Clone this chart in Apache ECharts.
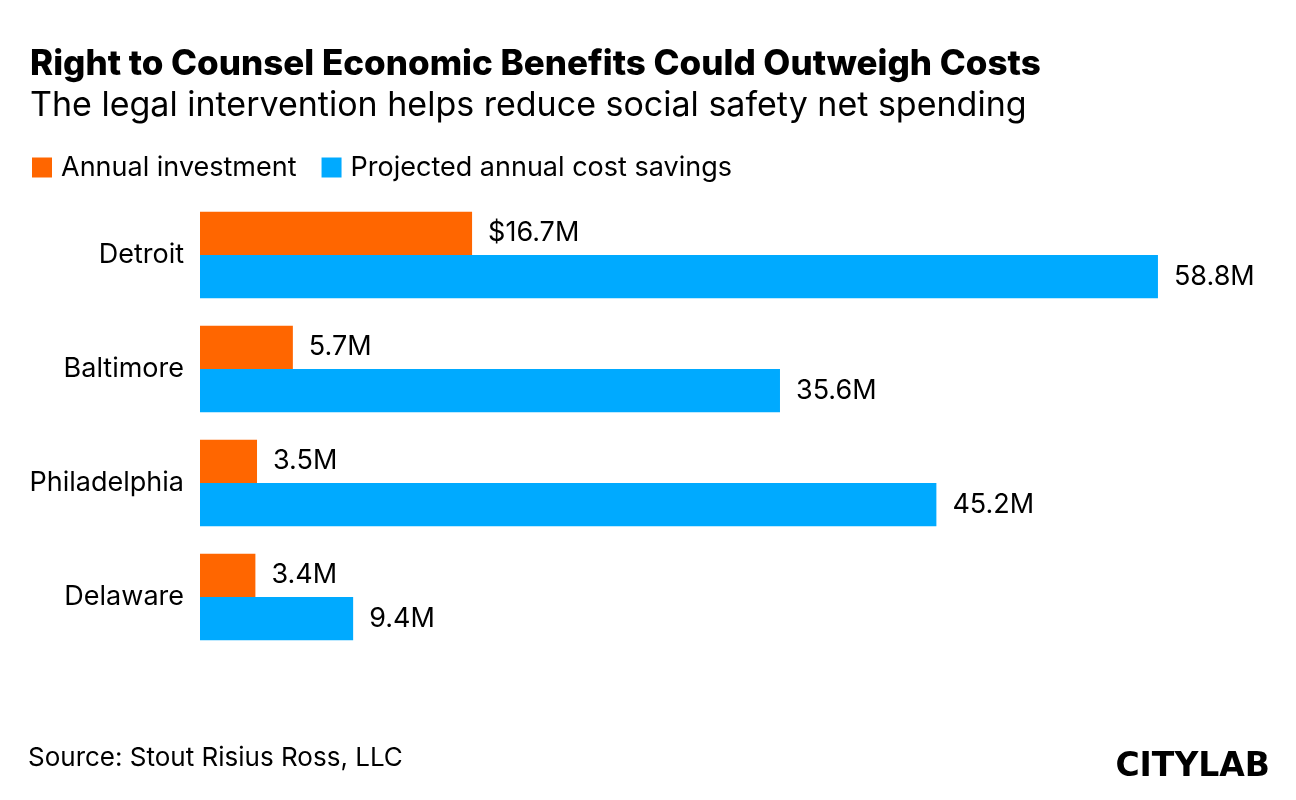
<!DOCTYPE html>
<html><head><meta charset="utf-8">
<script src="https://cdn.jsdelivr.net/npm/echarts@6/dist/echarts.min.js"></script>
<style>html,body{margin:0;padding:0;background:#fff}#c{width:1296px;height:800px}</style>
</head><body><div id="c"></div>
<script>
const categories = ['Detroit', 'Baltimore', 'Philadelphia', 'Delaware'];
const investment = [16.7, 5.7, 3.5, 3.4];
const savings = [58.8, 35.6, 45.2, 9.4];
const seriesNames = ['Annual investment', 'Projected annual cost savings'];
const FONT = 'Inter, "Liberation Sans", Arial, sans-serif';
const chart = echarts.init(document.getElementById('c'), null, {renderer: 'canvas'});
chart.setOption({
  backgroundColor: '#fff',
  animation: false,
  textStyle: {fontFamily: FONT},
  title: [
    {text: 'Right to Counsel Economic Benefits Could Outweigh Costs', left: 25, top: 42,
     textStyle: {fontSize: 35, fontWeight: 800, color: '#000', fontFamily: FONT}},
    {text: 'The legal intervention helps reduce social safety net spending', left: 25, top: 84,
     textStyle: {fontSize: 34, fontWeight: 'normal', color: '#000', fontFamily: FONT}}
  ],
  legend: {
    left: 27, top: 149, itemWidth: 20, itemHeight: 20, itemGap: 25, icon: 'rect',
    textStyle: {fontSize: 27, color: '#000', fontFamily: FONT, padding: [0, 0, 0, 4]},
    data: seriesNames
  },
  grid: {left: 200, top: 198, width: 977.5, height: 456, containLabel: false},
  xAxis: {type: 'value', min: 0, max: 60, show: false},
  yAxis: {
    type: 'category', data: categories, inverse: true,
    axisLine: {show: false}, axisTick: {show: false},
    axisLabel: {fontSize: 27, color: '#000', margin: 16, fontFamily: FONT}
  },
  series: [
    {name: seriesNames[0], type: 'bar', data: investment, barGap: '0%', barCategoryGap: '24%',
     itemStyle: {color: '#ff6600'},
     label: {show: true, position: 'right', distance: 16, fontSize: 27, color: '#000', fontFamily: FONT,
       formatter: p => (p.dataIndex === 0 ? '$' : '') + p.value.toFixed(1) + 'M'}},
    {name: seriesNames[1], type: 'bar', data: savings,
     itemStyle: {color: '#00aaff'},
     label: {show: true, position: 'right', distance: 16, fontSize: 27, color: '#000', fontFamily: FONT,
       formatter: p => p.value.toFixed(1) + 'M'}}
  ],
  graphic: [
    {type: 'text', left: 28, top: 745, style: {text: 'Source: Stout Risius Ross, LLC', fontSize: 26, fill: '#000', fontFamily: FONT}},
    {type: 'text', right: 26, top: 751, style: {text: 'CITYLAB', fontSize: 33, fontWeight: 900, fill: '#000', fontFamily: '"DejaVu Sans", sans-serif'}}
  ]
});
</script></body></html>
